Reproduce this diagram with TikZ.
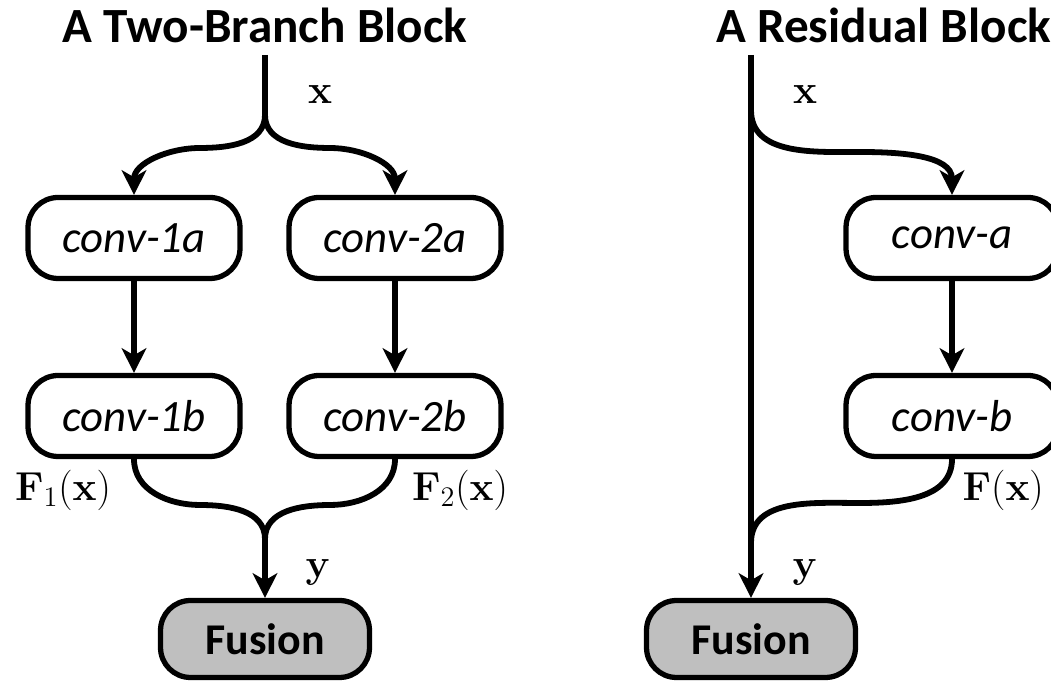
\documentclass[tikz,border=0pt]{standalone}
\usepackage{fix-cm}
\usepackage[no-math]{fontspec}
\setmainfont{Carlito}
\usetikzlibrary{arrows.meta}

\definecolor{fusegray}{RGB}{191,191,191}
\newcommand{\titlefont}{\fontsize{28}{32}\selectfont\bfseries}
\newcommand{\convfont}{\fontsize{25.5}{30}\selectfont\itshape}
\newcommand{\fusefont}{\fontsize{25}{30}\selectfont\bfseries}
\newcommand{\lblfont}{\fontsize{23}{26}\selectfont}

\begin{document}
\begin{tikzpicture}[x=0.02cm,y=0.02cm,
    conv/.style={draw,line width=3pt,rounded corners=0.6cm,
        minimum width=4.24cm,minimum height=1.62cm,font=\convfont},
    fusion/.style={conv,fill=fusegray,minimum width=4.18cm,
        minimum height=1.54cm,font=\fusefont},
    wire/.style={line width=3.3pt},
    flow/.style={wire,-{Stealth[length=14pt,width=14pt,inset=4pt]}},
    lbl/.style={font=\lblfont}]
    \useasboundingbox (0,0) rectangle (1051,685);

    % Two-branch block
    \node[font=\titlefont,anchor=base] (ttwo) at (265,642) {A Two-Branch Block};
    \coordinate (inL) at (265,630);
    \coordinate (splitL) at (265,570);
    \coordinate (bl) at (200,537);
    \coordinate (br) at (330,537);
    \node[conv] (c1a) at (134,447) {conv-1a};
    \node[conv] (c2a) at (395,447) {conv-2a};
    \node[conv] (c1b) at (134,269) {conv-1b};
    \node[conv] (c2b) at (395,269) {conv-2b};
    \coordinate (ml) at (200,180);
    \coordinate (mr) at (330,180);
    \coordinate (mergeL) at (265,146);
    \node[fusion] (fuseL) at (265,46) {Fusion};

    \draw[wire] (inL) -- (splitL);
    \draw[flow] (splitL) to[out=-90,in=0] (bl) to[out=180,in=90] (c1a.north);
    \draw[flow] (splitL) to[out=-90,in=180] (br) to[out=0,in=90] (c2a.north);
    \draw[flow] (c1a) -- (c1b);
    \draw[flow] (c2a) -- (c2b);
    \draw[wire] (c1b.south) to[out=-90,in=180] (ml) to[out=0,in=90] (mergeL);
    \draw[wire] (c2b.south) to[out=-90,in=0] (mr) to[out=180,in=90] (mergeL);
    \draw[flow] (mergeL) -- (fuseL.north);

    \node[lbl] (xL) at (320,590) {$\mathbf{x}$};
    \node[lbl] (f1) at (63,195) {$\mathbf{F}_1(\mathbf{x})$};
    \node[lbl] (f2) at (460,195) {$\mathbf{F}_2(\mathbf{x})$};
    \node[lbl] (yL) at (318,113) {$\mathbf{y}$};

    % Residual block
    \node[font=\titlefont,anchor=base west] (tres) at (710,642) {A Residual Block};
    \coordinate (inR) at (751,630);
    \coordinate (splitR) at (751,575);
    \coordinate (rb) at (860,533);
    \node[conv] (ca) at (952,447) {conv-a};
    \node[conv] (cb) at (952,269) {conv-b};
    \coordinate (rm) at (860,182);
    \coordinate (mergeR) at (751,142);
    \node[fusion] (fuseR) at (751,46) {Fusion};

    \draw[flow,line width=3.8pt] (inR) -- (fuseR.north);
    \draw[flow] (splitR) to[out=-90,in=180] (rb) to[out=0,in=90] (ca.north);
    \draw[flow] (ca) -- (cb);
    \draw[wire] (cb.south) to[out=-90,in=0] (rm) to[out=180,in=90] (mergeR);

    \node[lbl] (xR) at (805,590) {$\mathbf{x}$};
    \node[lbl,anchor=east] (fR) at (1050,195) {$\mathbf{F}(\mathbf{x})$};
    \node[lbl] (yR) at (805,113) {$\mathbf{y}$};
\end{tikzpicture}
\end{document}
